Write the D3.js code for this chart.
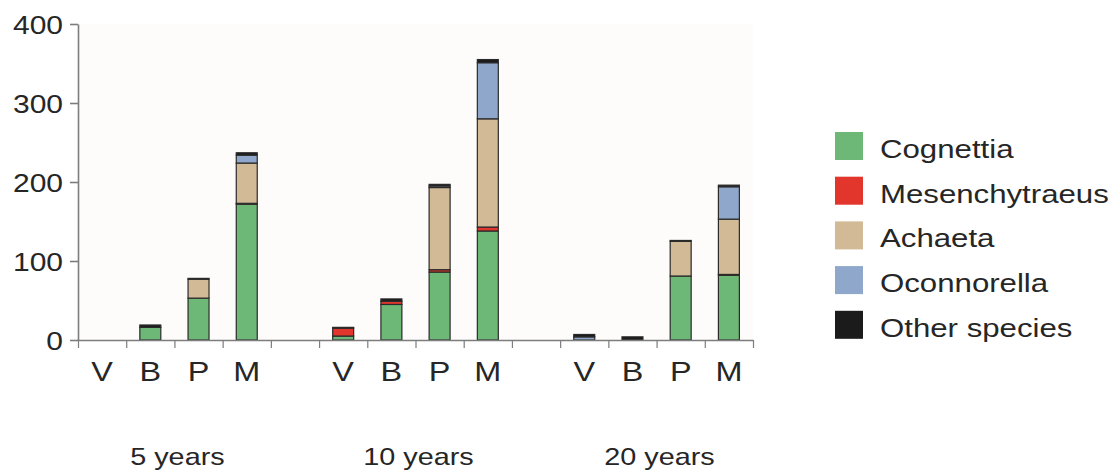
<!DOCTYPE html>
<html>
<head>
<meta charset="utf-8">
<script src="https://cdn.jsdelivr.net/npm/d3@7"></script>
<style>
  body { margin: 0; background: #fff; }
  svg { display: block; font-family: 'Liberation Sans', Arial, sans-serif; }
  text { fill: #262626; transform-box: fill-box; transform-origin: center; transform: scaleX(1.2); }
  .y.axis text { transform-origin: right; }
  .legend text { transform-origin: left; }
  .axis path, .axis line { stroke: #7d7d7d; }
</style>
</head>
<body>
<script>
const groups = ['5 years', '10 years', '20 years']
const sites = ['V', 'B', 'P', 'M']
const species = ['Cognettia', 'Mesenchytraeus', 'Achaeta', 'Oconnorella', 'Other species']
const colors = ['#6db877', '#e2352b', '#d3ba96', '#8fa7cb', '#1b1b1b']
const yTicks = [0, 100, 200, 300, 400]

// one value per bar, ordered 5 years V B P M, 10 years V B P M, 20 years V B P M
const cognettia = [0, 16, 53, 172, 5, 45, 86, 138, 0, 0, 81, 82]
const mesenchytraeus = [0, 0, 0, 1, 10, 4, 3, 5, 0, 0, 0, 1]
const achaeta = [0, 0, 24, 51, 0, 0, 104, 137, 0, 0, 44, 70]
const oconnorella = [0, 0, 0, 10, 0, 0, 2, 71, 4, 0, 0, 41]
const otherSpecies = [0, 3, 1, 3, 1, 3, 2, 4, 3, 4, 1, 2]

const series = [cognettia, mesenchytraeus, achaeta, oconnorella, otherSpecies]

const width = 1117
const height = 472
const plot = { left: 78, right: 753, top: 24, bottom: 340 }

// slots: 4 sites per group with one empty slot between groups
const slots = []
groups.forEach((g, gi) => {
  sites.forEach(s => slots.push(g + '|' + s))
  if (gi < groups.length - 1) slots.push('gap' + gi)
})

const rows = []
groups.forEach((g, gi) => {
  sites.forEach((s, si) => {
    const i = gi * sites.length + si
    const row = { key: g + '|' + s, site: s }
    species.forEach((sp, k) => { row[sp] = series[k][i] })
    rows.push(row)
  })
})

const svg = d3.select('body').append('svg')
  .attr('width', width)
  .attr('height', height)

svg.append('rect')
  .attr('x', plot.left).attr('y', plot.top)
  .attr('width', plot.right - plot.left).attr('height', plot.bottom - plot.top)
  .attr('fill', '#fdfcfa')

const xBand = d3.scaleBand().domain(slots).range([plot.left, plot.right])
  .paddingInner(0.565).paddingOuter(0.2825)
const xSlot = d3.scaleLinear().domain([0, slots.length]).range([plot.left, plot.right])
const y = d3.scaleLinear().domain([0, 400]).range([plot.bottom, plot.top])

const stack = d3.stack().keys(species)(rows)

svg.append('g').selectAll('g')
  .data(stack)
  .enter().append('g')
  .attr('fill', (d, i) => colors[i])
  .selectAll('rect')
  .data(d => d.filter(p => p[1] > p[0]))
  .enter().append('rect')
  .attr('x', d => xBand(d.data.key))
  .attr('width', xBand.bandwidth())
  .attr('y', d => y(d[1]))
  .attr('height', d => y(d[0]) - y(d[1]))
  .attr('stroke', '#2a2a2a')
  .attr('stroke-width', 1.2)

// y axis
const yAxis = svg.append('g')
  .attr('class', 'y axis')
  .attr('transform', 'translate(' + plot.left + ',0)')
  .call(d3.axisLeft(y).tickValues(yTicks).tickSize(8).tickSizeOuter(0).tickPadding(7))
yAxis.selectAll('text').style('font-size', '25px').attr('dy', '0.36em')
yAxis.select('.domain').attr('stroke-width', 1.6)
yAxis.selectAll('line').attr('stroke-width', 1.6)

// x axis: slot boundary ticks
const xAxis = svg.append('g')
  .attr('class', 'x axis')
  .attr('transform', 'translate(0,' + plot.bottom + ')')
  .call(d3.axisBottom(xSlot).tickValues(d3.range(slots.length + 1)).tickSize(8).tickSizeOuter(0).tickFormat(''))
xAxis.select('.domain').attr('stroke-width', 1.6)
xAxis.selectAll('line').attr('stroke-width', 1.2)

// site labels
const siteAxis = svg.append('g')
  .attr('transform', 'translate(0,' + plot.bottom + ')')
  .call(d3.axisBottom(xBand).tickSize(0).tickPadding(22).tickFormat(d => d.startsWith('gap') ? '' : d.split('|')[1]))
siteAxis.select('.domain').remove()
siteAxis.selectAll('text').style('font-size', '27px').attr('fill', '#262626')

// group labels
svg.append('g').selectAll('text')
  .data(groups)
  .enter().append('text')
  .attr('x', g => (xBand(g + '|V') + xBand(g + '|M') + xBand.bandwidth()) / 2 + 3)
  .attr('y', 465)
  .attr('text-anchor', 'middle')
  .style('font-size', '24px')
  .text(g => g)

// legend
const legend = svg.append('g').attr('class', 'legend')
  .attr('transform', 'translate(835,132)')
const item = legend.selectAll('g')
  .data(species)
  .enter().append('g')
  .attr('transform', (d, i) => 'translate(0,' + i * 44.7 + ')')
item.append('rect')
  .attr('width', 28).attr('height', 28)
  .attr('fill', (d, i) => colors[i])
item.append('text')
  .attr('x', 45).attr('y', 26)
  .style('font-size', '26px')
  .text(d => d)
</script>
</body>
</html>
